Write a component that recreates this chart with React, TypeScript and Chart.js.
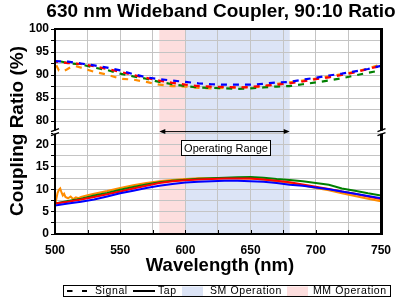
import React, { useEffect, useRef } from "react";
import { Chart, registerables } from "chart.js";

Chart.register(...registerables);

// Wavelength grid (nm) shared by most traces
const wavelength = [
  500, 510, 520, 530, 540, 550, 560, 570, 580, 590, 600, 610, 620, 630, 640,
  650, 660, 670, 680, 690, 700, 710, 720, 730, 740, 750,
];

// Signal port coupling ratio (%)
const signalBlue = [
  93.0, 92.9, 92.5, 92.1, 91.6, 91.0, 90.2, 89.5, 89.1, 88.8, 88.5, 88.2, 88.0,
  87.9, 87.9, 87.9, 88.1, 88.4, 88.5, 89.0, 89.4, 89.9, 90.3, 90.8, 91.3, 92.0,
];
const signalRed = [
  92.9, 92.6, 92.4, 91.9, 91.3, 90.7, 90.0, 89.4, 88.8, 88.3, 87.9, 87.6, 87.5,
  87.4, 87.3, 87.4, 87.7, 87.9, 88.2, 88.6, 89.1, 89.5, 90.0, 90.6, 91.3, 92.0,
];
const signalGreen = [
  93.2, 92.6, 92.3, 91.6, 91.1, 90.3, 89.7, 89.2, 88.5, 88.0, 87.6, 87.3, 87.2,
  87.1, 87.0, 87.1, 87.3, 87.5, 87.6, 88.0, 88.4, 88.8, 89.3, 89.9, 90.5, 91.0,
];
const signalOrangeWl = [
  500, 503, 506, 509, 512, 516, 520, 530, 540, 550, 560, 570, 580, 590, 600,
  610, 620, 630, 640, 650, 660, 670, 680, 690, 700, 710, 720, 730, 740, 750,
];
const signalOrange = [
  92.7, 91.0, 90.8, 91.2, 91.7, 91.9, 91.6, 90.7, 90.1, 89.2, 89.0, 88.5, 87.9,
  87.6, 87.5, 87.2, 87.1, 87.2, 87.3, 87.3, 87.5, 88.1, 88.4, 88.8, 89.2, 89.7,
  90.2, 90.7, 91.4, 92.3,
];

// Tap port coupling ratio (%)
const tapBlue = [
  6.4, 6.8, 7.2, 7.7, 8.4, 9.1, 9.7, 10.3, 10.8, 11.2, 11.5, 11.7, 11.8, 11.9,
  11.9, 11.8, 11.7, 11.4, 11.0, 10.8, 10.4, 10.0, 9.5, 9.0, 8.5, 8.0,
];
const tapRed = [
  6.8, 7.2, 7.7, 8.3, 8.9, 9.5, 10.2, 10.8, 11.4, 11.8, 12.0, 12.2, 12.3, 12.4,
  12.4, 12.4, 12.2, 11.9, 11.6, 11.1, 10.6, 10.1, 9.5, 9.0, 8.4, 7.8,
];
const tapGreen = [
  6.8, 7.4, 7.9, 8.6, 9.2, 9.9, 10.5, 11.1, 11.6, 11.9, 12.15, 12.35, 12.5,
  12.6, 12.7, 12.75, 12.6, 12.3, 12.1, 11.8, 11.4, 11.0, 10.2, 9.7, 9.1, 8.6,
];
const tapOrangeWl = [
  500, 501, 502, 503, 504, 505, 506, 507, 508, 510, 512, 514, 516, 518, 520,
  525, 530, 540, 550, 560, 570, 580, 590, 600, 610, 620, 630, 640, 650, 660,
  670, 680, 690, 700, 710, 720, 730, 740, 750,
];
const tapOrange = [
  6.5, 7.8, 9.2, 9.9, 10.2, 9.3, 8.6, 9.0, 8.3, 8.0, 8.4, 7.8, 8.2, 8.0, 8.3,
  8.7, 9.0, 9.6, 10.3, 10.9, 11.4, 11.8, 12.1, 12.3, 12.45, 12.5, 12.55, 12.5,
  12.4, 12.2, 11.8, 11.4, 10.9, 10.3, 9.8, 9.1, 8.5, 7.9, 7.3,
];

// Operating bands (nm)
const mmBand = [580, 600];
const smBand = [600, 680];
const operatingRange = [580, 680];

// Axis ranges and ticks
const xRange = { min: 500, max: 750 };
const xTickValues = [500, 525, 550, 575, 600, 625, 650, 675, 700, 725, 750];
const upperRange = { min: 77.6, max: 100 };
const upperTickValues = [80, 82.5, 85, 87.5, 90, 92.5, 95, 97.5, 100];
const lowerRange = { min: 0, max: 22.8 };
const lowerTickValues = [0, 2.5, 5, 7.5, 10, 12.5, 15, 17.5, 20, 22.5];

const BLUE = "#0000ff";
const RED = "#ff0000";
const GREEN = "#008000";
const ORANGE = "#ff8c00";
const SM_FILL = "#dce4f6";
const MM_FILL = "#fddede";
const GRID = "#c4c4c4";
const FONT = '"Liberation Sans", Arial, sans-serif';

const pts = (xs: number[], ys: number[]) => xs.map((x, i) => ({ x, y: ys[i] }));
const onStep = (v: number, s: number) => Math.abs(v / s - Math.round(v / s)) < 1e-6;

const signalSet = (label: string, xs: number[], ys: number[], color: string, offset: number) => ({
  label,
  data: pts(xs, ys),
  yAxisID: "yTop",
  borderColor: color,
  backgroundColor: color,
  borderWidth: 2.2,
  borderDash: [6, 6],
  borderDashOffset: offset,
  pointRadius: 0,
  tension: 0,
  fill: false,
});

const tapSet = (label: string, xs: number[], ys: number[], color: string) => ({
  label,
  data: pts(xs, ys),
  yAxisID: "yBot",
  borderColor: color,
  backgroundColor: color,
  borderWidth: 2,
  pointRadius: 0,
  tension: 0,
  fill: false,
});

const decorations = {
  id: "decorations",
  beforeDraw(chart: any) {
    const { ctx, chartArea } = chart;
    const x = chart.scales.x;
    ctx.save();
    const h = chartArea.bottom - chartArea.top;
    ctx.fillStyle = MM_FILL;
    ctx.fillRect(x.getPixelForValue(mmBand[0]), chartArea.top, x.getPixelForValue(mmBand[1]) - x.getPixelForValue(mmBand[0]), h);
    ctx.fillStyle = SM_FILL;
    ctx.fillRect(x.getPixelForValue(smBand[0]), chartArea.top, x.getPixelForValue(smBand[1]) - x.getPixelForValue(smBand[0]), h);
    ctx.restore();
  },
  afterDraw(chart: any) {
    const { ctx, chartArea } = chart;
    const { left, right, top, bottom } = chartArea;
    const x = chart.scales.x;
    const splitY = chart.scales.yTop.bottom;
    ctx.save();

    // frame
    ctx.strokeStyle = "#000";
    ctx.lineWidth = 2;
    ctx.beginPath();
    ctx.moveTo(left - 1, top);
    ctx.lineTo(right, top);
    ctx.moveTo(left, top);
    ctx.lineTo(left, bottom + 1);
    ctx.moveTo(left - 1, bottom);
    ctx.lineTo(right, bottom);
    ctx.stroke();
    ctx.lineWidth = 3;
    ctx.beginPath();
    ctx.moveTo(right + 0.5, top - 1);
    ctx.lineTo(right + 0.5, bottom + 1);
    ctx.stroke();

    // small inward ticks on the wavelength axis
    ctx.lineWidth = 1;
    ctx.beginPath();
    for (const v of xTickValues) {
      const px = Math.round(x.getPixelForValue(v)) + 0.5;
      ctx.moveTo(px, bottom);
      ctx.lineTo(px, bottom - 4);
    }
    ctx.stroke();

    // axis break marks
    for (const ax of [left, right + 0.5]) {
      ctx.fillStyle = "#fff";
      ctx.fillRect(ax - 2, splitY - 1.5, 4, 3);
      ctx.strokeStyle = "#000";
      ctx.lineWidth = 1.5;
      ctx.beginPath();
      ctx.moveTo(ax - 4, splitY - 0.5);
      ctx.lineTo(ax + 4, splitY - 3.5);
      ctx.moveTo(ax - 4, splitY + 3.5);
      ctx.lineTo(ax + 4, splitY + 0.5);
      ctx.stroke();
    }

    // operating range arrow
    const ax0 = x.getPixelForValue(operatingRange[0]);
    const ax1 = x.getPixelForValue(operatingRange[1]);
    const ay = splitY - 0.5;
    ctx.strokeStyle = "#000";
    ctx.fillStyle = "#000";
    ctx.lineWidth = 1;
    ctx.beginPath();
    ctx.moveTo(ax0 + 2, ay);
    ctx.lineTo(ax1 - 2, ay);
    ctx.stroke();
    ctx.beginPath();
    ctx.moveTo(ax0, ay);
    ctx.lineTo(ax0 + 6, ay - 2.5);
    ctx.lineTo(ax0 + 6, ay + 2.5);
    ctx.closePath();
    ctx.moveTo(ax1, ay);
    ctx.lineTo(ax1 - 6, ay - 2.5);
    ctx.lineTo(ax1 - 6, ay + 2.5);
    ctx.closePath();
    ctx.fill();

    // label box
    const bx = 181, by = 140, bw = 89, bh = 15;
    ctx.fillStyle = "#fff";
    ctx.fillRect(bx, by, bw, bh);
    ctx.strokeStyle = "#000";
    ctx.lineWidth = 1;
    ctx.strokeRect(bx + 0.5, by + 0.5, bw, bh);
    ctx.fillStyle = "#000";
    ctx.font = `11px ${FONT}`;
    ctx.textAlign = "center";
    ctx.textBaseline = "middle";
    ctx.fillText("Operating Range", bx + bw / 2 + 0.5, by + bh / 2 + 1);

    // title
    ctx.font = `bold 19px ${FONT}`;
    ctx.fillText("630 nm Wideband Coupler, 90:10 Ratio", 221, 12);

    // axis titles
    ctx.font = `bold 18.5px ${FONT}`;
    ctx.fillText("Wavelength (nm)", 220, 266);
    ctx.save();
    ctx.translate(18, 131);
    ctx.rotate(-Math.PI / 2);
    ctx.font = `bold 19px ${FONT}`;
    ctx.fillText("Coupling Ratio (%)", 0, 0);
    ctx.restore();

    // legend
    const lx = 63, ly = 285.5, lw = 327, lh = 11;
    const my = ly + lh / 2;
    ctx.lineWidth = 1;
    ctx.strokeStyle = "#000";
    ctx.strokeRect(lx + 0.5, ly, lw, lh);
    ctx.lineWidth = 2;
    ctx.beginPath();
    ctx.moveTo(67, my);
    ctx.lineTo(72.5, my);
    ctx.moveTo(82, my);
    ctx.lineTo(87, my);
    ctx.moveTo(133, my);
    ctx.lineTo(155, my);
    ctx.stroke();
    ctx.fillStyle = SM_FILL;
    ctx.fillRect(182, ly + 1, 21, lh - 1.5);
    ctx.fillStyle = MM_FILL;
    ctx.fillRect(287, ly + 1, 21, lh - 1.5);
    ctx.fillStyle = "#000";
    ctx.font = `10.5px ${FONT}`;
    (ctx as any).letterSpacing = "0.6px";
    ctx.textAlign = "left";
    ctx.fillText("Signal", 95, my + 0.5);
    ctx.fillText("Tap", 158, my + 0.5);
    ctx.fillText("SM Operation", 210, my + 0.5);
    ctx.fillText("MM Operation", 313, my + 0.5);
    ctx.restore();
  },
};

const yScale = (range: { min: number; max: number }, tickValues: number[], weight: number) => ({
  type: "linear" as const,
  position: "left" as const,
  stack: "ratio",
  stackWeight: weight,
  min: range.min,
  max: range.max,
  border: { display: false },
  afterBuildTicks: (s: any) => {
    s.ticks = tickValues.map((value) => ({ value }));
  },
  grid: {
    display: true,
    drawOnChartArea: true,
    color: GRID,
    tickColor: "#000",
    tickLength: 4,
    lineWidth: 1,
  },
  ticks: {
    autoSkip: false,
    color: "#000",
    padding: 2,
    font: { family: FONT, size: 12, weight: "bold" as const },
    callback: (v: any) => (onStep(Number(v), 5) ? String(v) : ""),
  },
  afterFit: (s: any) => {
    s.width = 27;
  },
});

export default function App() {
  const canvasRef = useRef<HTMLCanvasElement | null>(null);

  useEffect(() => {
    if (!canvasRef.current) return;
    const chart = new Chart(canvasRef.current, {
      type: "line",
      data: {
        datasets: [
          signalSet("Signal", wavelength, signalBlue, BLUE, 0),
          signalSet("Signal", wavelength, signalRed, RED, 3),
          signalSet("Signal", wavelength, signalGreen, GREEN, 6),
          signalSet("Signal", signalOrangeWl, signalOrange, ORANGE, 9),
          tapSet("Tap", wavelength, tapBlue, BLUE),
          tapSet("Tap", wavelength, tapRed, RED),
          tapSet("Tap", wavelength, tapGreen, GREEN),
          tapSet("Tap", tapOrangeWl, tapOrange, ORANGE),
        ] as any,
      },
      options: {
        animation: false,
        responsive: false,
        maintainAspectRatio: false,
        layout: { padding: { left: 28, right: 12, top: 29, bottom: 0 } },
        plugins: { legend: { display: false }, title: { display: false }, tooltip: { enabled: false } },
        scales: {
          x: {
            type: "linear",
            min: xRange.min,
            max: xRange.max,
            border: { display: false },
            afterBuildTicks: (s: any) => {
              s.ticks = xTickValues.map((value) => ({ value }));
            },
            grid: { display: true, drawOnChartArea: true, color: GRID, drawTicks: false, lineWidth: 1 },
            ticks: {
              color: "#000",
              padding: 9,
              maxRotation: 0,
              autoSkip: false,
              font: { family: FONT, size: 12, weight: "bold" },
              callback: (v: any) => (onStep(Number(v), 50) ? String(v) : ""),
            },
            afterFit: (s: any) => {
              s.height = 64;
            },
          },
          yBot: yScale(lowerRange, lowerTickValues, 101.8),
          yTop: yScale(upperRange, upperTickValues, 103),
        } as any,
      },
      plugins: [decorations],
    });
    return () => chart.destroy();
  }, []);

  return (
    <div style={{ position: "absolute", left: 0, top: 0, width: 400, height: 298, background: "#fff" }}>
      <canvas ref={canvasRef} width={400} height={298} style={{ width: 400, height: 298, display: "block" }} />
    </div>
  );
}
